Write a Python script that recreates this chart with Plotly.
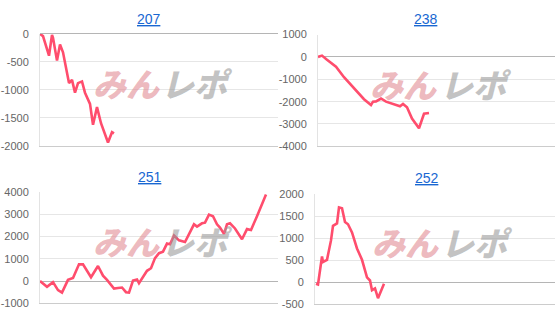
import plotly.graph_objects as go

W, H = 555, 326

titles = ["207", "238", "251", "252"]

# x positions (sample index) and values (difference) for each machine
x_207 = [0, 3, 9, 12, 13, 17, 20, 23, 29, 32, 35, 38, 42, 45, 50, 53, 57, 61, 68, 72, 74]
v_207 = [0, -40, -390, -17, -70, -478, -190, -330, -880, -822, -1052, -880, -850, -1052,
         -1253, -1626, -1310, -1598, -1943, -1760, -1781]

x_238 = [0, 4, 9, 18, 26, 33, 39, 46, 53, 55, 58, 63, 68, 76, 82, 85, 89, 94, 101, 106, 111]
v_238 = [0, 60, -125, -440, -905, -1240, -1530, -1890, -2150, -2000, -1990, -1860, -2000,
         -2105, -2205, -2105, -2250, -2760, -3190, -2540, -2510]

x_251 = [0, 7, 13, 18, 22, 28, 33, 39, 43, 51, 58, 63, 67, 74, 78, 82, 86, 89, 93, 97, 99,
         107, 111, 115, 119, 123, 127, 130, 134, 139, 145, 150, 154, 157, 162, 165, 169, 173,
         177, 180, 184, 187, 190, 195, 202, 207, 211, 217, 222, 226]
v_251 = [0, -260, -50, -405, -520, 55, 140, 750, 750, 170, 675, 240, 55, -335, -310, -290,
         -500, -520, 25, 70, -100, 460, 575, 1030, 1250, 1320, 1680, 1650, 2040, 1825, 1750,
         2215, 2545, 2445, 2590, 2620, 2980, 2910, 2545, 2400, 2115, 2545, 2590, 2360, 1875,
         2330, 2290, 2910, 3485, 3885]

x_252 = [1, 3, 7, 8, 12, 16, 18, 22, 24, 27, 30, 33, 37, 42, 47, 50, 52, 55, 57, 60, 63, 69]
v_252 = [-33, -50, 585, 460, 510, 950, 1280, 1335, 1700, 1680, 1365, 1315, 1130, 767, 510,
         295, 110, 40, -180, -140, -360, -33]

xs = [x_207, x_238, x_251, x_252]
vs = [v_207, v_238, v_251, v_252]

yticks = [
    [0, -500, -1000, -1500, -2000],
    [1000, 0, -1000, -2000, -3000, -4000],
    [4000, 3000, 2000, 1000, 0, -1000],
    [2000, 1500, 1000, 500, 0, -500],
]
yticktext = [[str(t) for t in tv] for tv in yticks]
yranges = [[-2000, 0], [-4000, 1000], [-1000, 4000], [-500, 2000]]
xranges = [[0, 238], [0, 237], [0, 238], [0, 240]]

# panel boxes in pixels: left, right, top, bottom
boxes = [(40, 278, 29, 145), (318, 555, 29.7, 145.7),
         (40, 278, 193, 308.7), (315, 555, 195.3, 309.7)]
title_pos = [(149, 14), (426, 14), (150, 178), (427, 179)]
logo_pos = [(126, 197, 80), (403, 476, 81), (126, 197, 244), (405, 477, 245)]

fig = go.Figure()
layout = dict(width=W, height=H, margin=dict(l=0, r=0, t=0, b=0),
              paper_bgcolor="white", plot_bgcolor="white", showlegend=False,
              font=dict(family="Liberation Sans, Arial, sans-serif", size=11, color="#666666"))
annotations = []

for i in range(4):
    n = "" if i == 0 else str(i + 1)
    l, r, t, b = boxes[i]
    layout["xaxis" + n] = dict(domain=[l / W, r / W], range=xranges[i], showgrid=False,
                               zeroline=False, showticklabels=False, ticks="",
                               showline=True, linecolor="#cccccc", linewidth=1,
                               anchor="y" + n, fixedrange=True)
    layout["yaxis" + n] = dict(domain=[1 - b / H, 1 - t / H], range=yranges[i],
                               tickvals=yticks[i], ticktext=yticktext[i],
                               showgrid=True, gridcolor="#e6e6e6", gridwidth=1,
                               zeroline=True, zerolinecolor="#b5b5b5", zerolinewidth=1,
                               showline=True, linecolor="#e3e3e3", linewidth=1,
                               ticks="", ticklabelstandoff=8,
                               tickfont=dict(size=11, color="#666666"),
                               anchor="x" + n, fixedrange=True)
    fig.add_trace(go.Scatter(x=xs[i], y=vs[i], mode="lines",
                             line=dict(color="#ff4d6d", width=2.6),
                             xaxis="x" + n, yaxis="y" + n, hoverinfo="skip"))
    tx, ty = title_pos[i]
    annotations.append(dict(text="<u>" + titles[i] + "</u>", x=tx / W, y=1 - ty / H,
                            xref="paper", yref="paper", showarrow=False,
                            xanchor="center", yanchor="middle",
                            font=dict(size=14, color="#1967d2",
                                      family="Liberation Sans, Arial, sans-serif")))
    px, gx, ly = logo_pos[i]
    annotations.append(dict(text="<i>みん</i>", x=px / W, y=1 - ly / H,
                            xref="paper", yref="paper", showarrow=False,
                            xanchor="center", yanchor="middle",
                            font=dict(size=33, color="rgba(226,140,148,0.62)", weight=900,
                                      family="Noto Sans CJK JP")))
    annotations.append(dict(text="<i>レポ</i>", x=gx / W, y=1 - ly / H,
                            xref="paper", yref="paper", showarrow=False,
                            xanchor="center", yanchor="middle",
                            font=dict(size=33, color="rgba(150,150,150,0.56)", weight=900,
                                      family="Noto Sans CJK JP")))

layout["annotations"] = annotations
fig.update_layout(**layout)
fig.write_html("out.html")
